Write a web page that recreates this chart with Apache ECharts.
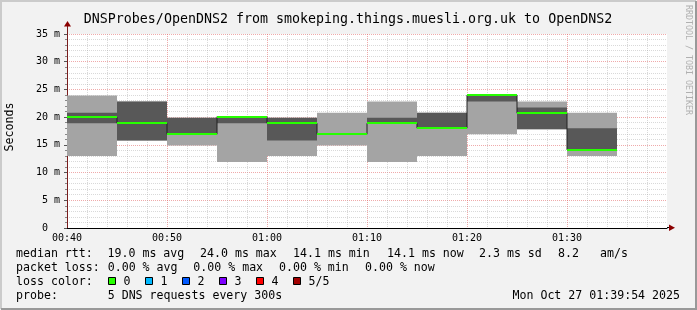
<!DOCTYPE html>
<html>
<head>
<meta charset="utf-8">
<script src="https://cdn.jsdelivr.net/npm/echarts@6/dist/echarts.min.js"></script>
<style>
html,body{margin:0;padding:0;background:#f2f2f2;}
#chart{width:697px;height:310px;}
</style>
</head>
<body>
<div id="chart"></div>
<script>
// ---- data (minutes after midnight, milliseconds) ----
const slotStart = [40, 45, 50, 55, 60, 65, 70, 75, 80, 85, 90];
const slotLength = 5;
const pingMin    = [13.0, 15.8, 14.9, 11.9, 13.0, 14.9, 11.9, 13.0, 16.9, 17.8, 13.0];
const ping2      = [18.9, 15.8, 16.9, 18.9, 15.8, 16.9, 18.9, 18.0, 22.8, 17.8, 14.1];
const pingMedian = [20.0, 18.9, 16.9, 20.1, 18.9, 16.9, 18.9, 18.0, 24.0, 20.7, 14.1];
const ping4      = [20.8, 22.8, 19.9, 20.2, 19.9, 16.9, 19.9, 20.8, 24.1, 21.75, 18.0];
const pingMax    = [23.9, 22.8, 19.9, 20.2, 19.9, 20.8, 22.8, 20.8, 24.1, 22.8, 20.8];

const xTickValues = [40, 50, 60, 70, 80, 90];
const xTickLabels = ['00:40', '00:50', '01:00', '01:10', '01:20', '01:30'];
const yTickValues = [0, 5, 10, 15, 20, 25, 30, 35];
const yTickLabels = ['0  ', '5 m', '10 m', '15 m', '20 m', '25 m', '30 m', '35 m'];

const titleText = 'DNSProbes/OpenDNS2 from smokeping.things.muesli.org.uk to OpenDNS2';
const yAxisTitle = 'Seconds';
const rttHeader = 'median rtt:';
const rttStats = ['19.0 ms avg', '24.0 ms max', '14.1 ms min', '14.1 ms now', '2.3 ms sd', '8.2', 'am/s'];
const lossHeader = 'packet loss:';
const lossStats = ['0.00 % avg', '0.00 % max', '0.00 % min', '0.00 % now'];
const lossColorHeader = 'loss color:';
const lossColorLabels = ['0', '1', '2', '3', '4', '5/5'];
const lossColors = ['#26ff00', '#00b8ff', '#0059ff', '#7e00ff', '#ff0000', '#a10000'];
const probeHeader = 'probe:';
const probeText = '5 DNS requests every 300s';
const dateText = 'Mon Oct 27 01:39:54 2025';
const watermark = 'RRDTOOL / TOBI OETIKER';

// ---- build ----
const FONT = 'DejaVu Sans Mono';
const smokeOuter = slotStart.map((s, i) => [s, s + slotLength, pingMin[i], pingMax[i]]);
const smokeInner = slotStart.map((s, i) => [s, s + slotLength, ping2[i], ping4[i]]);
const medianBars = slotStart.map((s, i) => [s, s + slotLength, pingMedian[i]]);
const medianStep = slotStart.map((s, i) => [s, pingMedian[i]]);
medianStep.push([slotStart[slotStart.length - 1] + slotLength, pingMedian[pingMedian.length - 1]]);

function smokeRender(fill) {
  return function (params, api) {
    const a = api.coord([api.value(0), api.value(3)]);
    const b = api.coord([api.value(1), api.value(2)]);
    return {
      type: 'rect',
      shape: { x: a[0], y: a[1], width: b[0] - a[0], height: b[1] - a[1] },
      style: { fill: fill }
    };
  };
}
function medianRender(params, api) {
  const a = api.coord([api.value(0), api.value(2)]);
  const b = api.coord([api.value(1), api.value(2)]);
  return {
    type: 'rect',
    shape: { x: a[0], y: Math.round(a[1]) - 1, width: b[0] - a[0], height: 2 },
    style: { fill: lossColors[0] }
  };
}

const legendFont = 11.6;
const graphics = [];
function txt(x, y, s, opts) {
  graphics.push(Object.assign({
    type: 'text', x: x, y: y, silent: true,
    style: Object.assign({ text: s, font: legendFont + 'px "' + FONT + '"', fill: '#000', align: 'left', verticalAlign: 'middle' }, opts || {})
  }));
}
// frame
graphics.push({ type: 'polyline', silent: true, shape: { points: [[1, 309], [1, 1], [696, 1]] }, style: { stroke: '#cbcbcb', lineWidth: 2, fill: null } });
graphics.push({ type: 'polyline', silent: true, shape: { points: [[1, 309], [696, 309], [696, 1]] }, style: { stroke: '#999999', lineWidth: 2, fill: null } });
// title
txt(348, 19.5, titleText, { font: '13.3px "' + FONT + '"', align: 'center' });
// y axis title
graphics.push({ type: 'text', x: 10, y: 127, rotation: Math.PI / 2, silent: true,
  style: { text: yAxisTitle, font: '11.6px "' + FONT + '"', fill: '#000', align: 'center', verticalAlign: 'middle' } });
// watermark
graphics.push({ type: 'text', x: 688, y: 60, rotation: -Math.PI / 2, silent: true,
  style: { text: watermark, font: '8.3px "' + FONT + '"', fill: '#b0b0b0', align: 'center', verticalAlign: 'middle' } });
// axis arrows
graphics.push({ type: 'line', silent: true, shape: { x1: 67.5, y1: 34, x2: 67.5, y2: 25 }, style: { stroke: '#7a1d1d', lineWidth: 1 } });
graphics.push({ type: 'polygon', silent: true, shape: { points: [[64, 26.5], [71, 26.5], [67.5, 21]] }, style: { fill: '#8b0000' } });
graphics.push({ type: 'line', silent: true, shape: { x1: 667, y1: 227.5, x2: 670, y2: 227.5 }, style: { stroke: '#000', lineWidth: 1 } });
graphics.push({ type: 'polygon', silent: true, shape: { points: [[669, 224.5], [669, 231], [675, 227.75]] }, style: { fill: '#8b0000' } });

// legend rows
const row1 = 254, row2 = 268.3, row3 = 281.5, row4 = 296.3;
txt(16, row1, rttHeader);
const rttX = [107.5, 200, 293, 387, 479, 558, 600];
rttStats.forEach((s, i) => txt(rttX[i], row1, s));
txt(16, row2, lossHeader);
const lossX = [107.7, 193.3, 279, 365];
lossStats.forEach((s, i) => txt(lossX[i], row2, s));
txt(16, row3, lossColorHeader);
const boxX = [108.5, 145.5, 182.5, 219.5, 256.5, 293.5];
lossColorLabels.forEach((s, i) => {
  graphics.push({ type: 'rect', silent: true, shape: { x: boxX[i], y: 277.5, width: 7, height: 7 }, style: { fill: lossColors[i], stroke: '#000', lineWidth: 1 } });
  txt(boxX[i] + 15, row3, s);
});
txt(16, row4, probeHeader);
txt(107.7, row4, probeText);
txt(680, row4, dateText, { align: 'right' });

const chart = echarts.init(document.getElementById('chart'), null, { renderer: 'canvas' });
chart.setOption({
  backgroundColor: '#f2f2f2',
  animation: false,
  textStyle: { fontFamily: FONT },
  grid: { left: 67, right: 30, top: 34, bottom: 82, show: true, backgroundColor: '#ffffff', borderWidth: 0 },
  xAxis: {
    type: 'value', min: 40, max: 100, interval: 10,
    axisLine: { show: true, onZero: false, lineStyle: { color: '#000', width: 1 } },
    axisTick: { show: false },
    axisLabel: {
      fontSize: 10, color: '#000', margin: 5, fontFamily: FONT,
      formatter: function (v) { const i = xTickValues.indexOf(v); return i >= 0 ? xTickLabels[i] : ''; }
    },
    splitLine: { show: true, showMaxLine: false, lineStyle: { color: 'rgba(225,100,100,0.55)', type: [1, 1], width: 1 } },
    minorTick: { show: false, splitNumber: 5 },
    minorSplitLine: { show: true, lineStyle: { color: 'rgba(160,160,160,0.4)', type: [1, 1], width: 1 } }
  },
  yAxis: {
    type: 'value', min: 0, max: 35, interval: 5,
    axisLine: { show: true, onZero: false, lineStyle: { color: '#7a1d1d', width: 1 } },
    axisTick: { show: true, length: 3, lineStyle: { color: '#555' } },
    minorTick: { show: true, splitNumber: 5, length: 2, lineStyle: { color: '#888' } },
    axisLabel: {
      fontSize: 10, color: '#000', margin: 7, fontFamily: FONT,
      formatter: function (v) { const i = yTickValues.indexOf(v); return i >= 0 ? yTickLabels[i] : ''; }
    },
    splitLine: { show: true, showMinLine: false, lineStyle: { color: 'rgba(225,100,100,0.55)', type: [1, 1], width: 1 } },
    minorSplitLine: { show: true, lineStyle: { color: 'rgba(160,160,160,0.4)', type: [1, 1], width: 1 } }
  },
  series: [
    { type: 'custom', name: 'smoke outer', data: smokeOuter, encode: { x: [0, 1], y: [2, 3] }, renderItem: smokeRender('#a4a4a4'), silent: true, z: 2 },
    { type: 'custom', name: 'smoke inner', data: smokeInner, encode: { x: [0, 1], y: [2, 3] }, renderItem: smokeRender('#585858'), silent: true, z: 3 },
    { type: 'line', name: 'median edge', data: medianStep, step: 'end', symbol: 'none', silent: true, z: 4,
      lineStyle: { color: '#202020', width: 1 } },
    { type: 'custom', name: 'median', data: medianBars, encode: { x: [0, 1], y: 2 }, renderItem: medianRender, silent: true, z: 5 }
  ],
  graphic: graphics
});
</script>
</body>
</html>
